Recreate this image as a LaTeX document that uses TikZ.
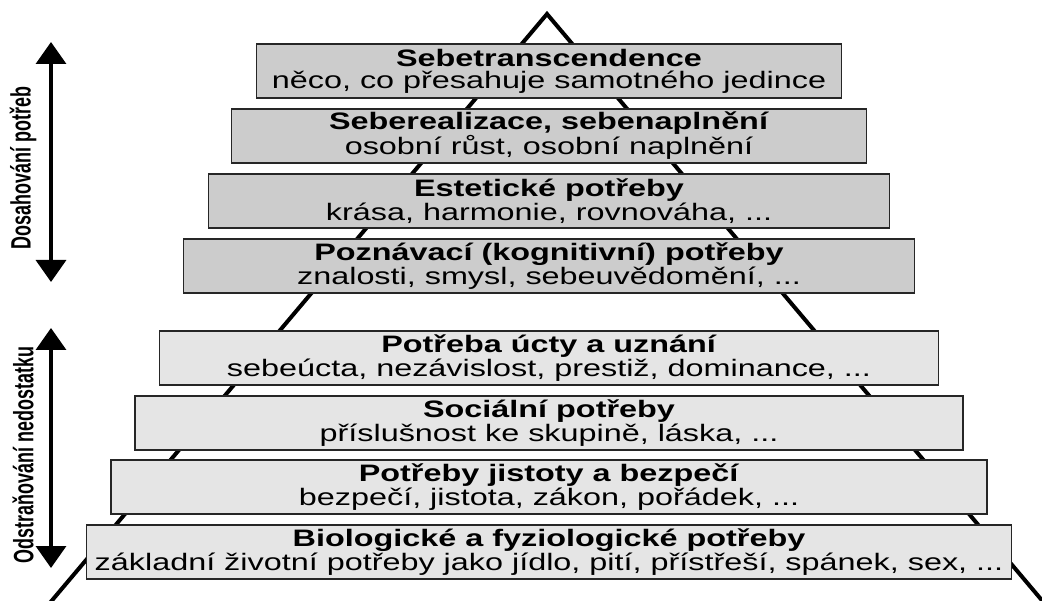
\documentclass[tikz,border=0pt]{standalone}
\usepackage{fontspec}
\setmainfont{Liberation Sans}
\newfontfamily\boxfont{Liberation Sans}[FakeStretch=1.36]
\newfontfamily\sidefont{Liberation Sans}[FakeStretch=0.64]
\usetikzlibrary{arrows.meta}
\definecolor{upperfill}{gray}{0.80}
\definecolor{lowerfill}{gray}{0.90}
\begin{document}
\begin{tikzpicture}[x=1pt,y=-1pt,
  level/.style={draw=black!85,line width=1.5pt,minimum height=54pt,inner sep=0pt,align=center,
    font=\boxfont\fontsize{23.8}{22}\selectfont},
  side/.style={rotate=90,inner sep=0pt,font=\sidefont\bfseries\fontsize{28}{28}\selectfont},
  span/.style={line width=3.5pt,{Triangle[width=30pt,length=22pt]}-{Triangle[width=30pt,length=22pt]}}]
\useasboundingbox (0,0) rectangle (1042,601);
% pyramid outline
\begin{scope}
\clip (0,0) rectangle (1042,601);
\coordinate (apex) at (547,14);
\coordinate (baseL) at (38,617);
\coordinate (baseR) at (1056,617);
\draw[line width=4pt] (baseL)--(apex)--(baseR);
\end{scope}
% levels, top to bottom
\foreach \n/\y/\w/\f/\head/\sub in {
  1/71/585/upperfill/{Sebetranscendence}/{něco, co přesahuje samotného jedince},
  2/136/635/upperfill/{Seberealizace, sebenaplnění}/{osobní růst, osobní naplnění},
  3/201/681/upperfill/{Estetické potřeby}/{krása, harmonie, rovnováha, ...},
  4/266/731/upperfill/{Poznávací (kognitivní) potřeby}/{znalosti, smysl, sebeuvědomění, ...},
  5/358/779/lowerfill/{Potřeba úcty a uznání}/{sebeúcta, nezávislost, prestiž, dominance, ...},
  6/423/828/lowerfill/{Sociální potřeby}/{příslušnost ke skupině, láska, ...},
  7/487/876/lowerfill/{Potřeby jistoty a bezpečí}/{bezpečí, jistota, zákon, pořádek, ...},
  8/552/925/lowerfill/{Biologické a fyziologické potřeby}/{základní životní potřeby jako jídlo, pití, přístřeší, spánek, sex, ...}}
  \node[level,fill=\f,minimum width=\w pt] (l\n) at (549,\y) {\textbf{\head}\\\sub};
% side arrows
\coordinate (reachTop) at (51,42);
\coordinate (reachBot) at (51,282);
\coordinate (removeTop) at (51,328);
\coordinate (removeBot) at (51,568);
\draw[span] (reachBot)--(reachTop);
\draw[span] (removeBot)--(removeTop);
\node[side] (reach) at (23,168) {Dosahování potřeb};
\node[side] (remove) at (23,455) {Odstraňování nedostatku};
\end{tikzpicture}
\end{document}
